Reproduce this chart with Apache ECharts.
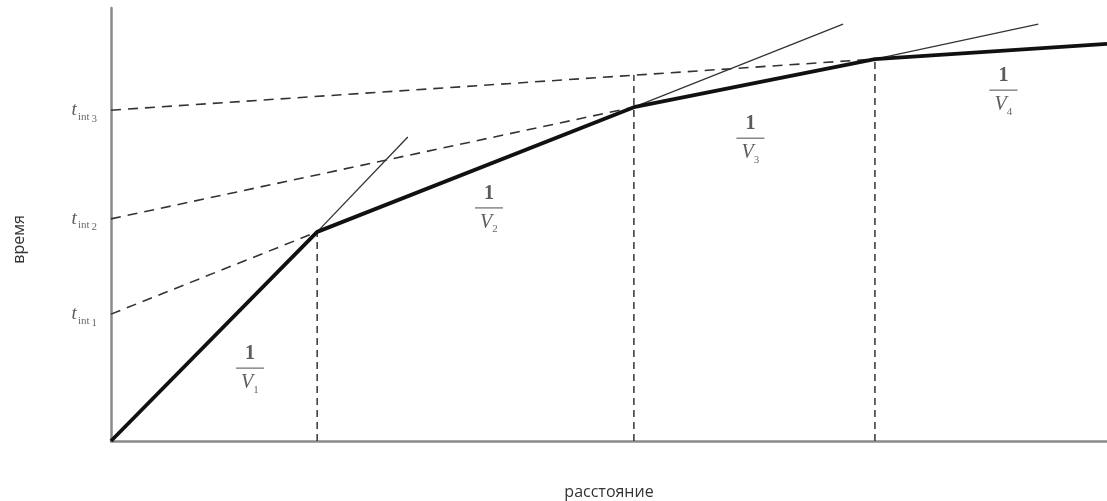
<!DOCTYPE html>
<html>
<head>
<meta charset="utf-8">
<script src="https://cdn.jsdelivr.net/npm/echarts@6/dist/echarts.min.js"></script>
<style>html,body{margin:0;padding:0;background:#fff;}#c{width:1107px;height:501px;}</style>
</head>
<body>
<div id="c"></div>
<script>
// Travel-time curve break points [distance, time]
var breakPoints = [[0, 0], [20.7, 48.3], [52.5, 77.1], [76.7, 88.2], [100, 91.7]];
// Intercept times t_int1..3 (on time axis)
var interceptTimes = [29.3, 51.3, 76.4];
// Ends of dashed back-extensions (start at distance 0, intercept time)
var dashedEnds = [[20.7, 48.3], [52.5, 77.1], [76.7, 88.2]];
// Thin forward extensions of segments: [start, end]
var thinExtensions = [
  [[20.7, 48.3], [29.8, 70.2]],
  [[52.5, 77.1], [73.5, 96.3]],
  [[76.7, 88.2], [93.1, 96.3]]
];
// Vertical dashed drops: [distance, top time]
var verticalDrops = [[20.7, 48.3], [52.5, 84.5], [76.7, 88.2]];
// Slope label indices and anchors
var slopeLabels = ['1', '2', '3', '4'];
var slopeAnchors = [[13.95, 16.6], [37.95, 53.6], [64.2, 69.7], [89.6, 80.8]];
var xTitle = 'расстояние';
var yTitle = 'время';

var serif = 'Liberation Serif';
var series = [];

series.push({
  type: 'line', data: breakPoints, symbol: 'none', silent: true,
  lineStyle: { color: '#111', width: 3.8 }, z: 5
});
thinExtensions.forEach(function (seg) {
  series.push({ type: 'line', data: seg, symbol: 'none', silent: true,
    lineStyle: { color: '#333', width: 1.3 }, z: 4 });
});
interceptTimes.forEach(function (t, i) {
  series.push({ type: 'line', data: [[0, t], dashedEnds[i]], symbol: 'none', silent: true,
    lineStyle: { color: '#333', width: 1.6, type: [10, 7] }, z: 3 });
});
verticalDrops.forEach(function (v) {
  series.push({ type: 'line', data: [[v[0], 0], v], symbol: 'none', silent: true,
    lineStyle: { color: '#333', width: 1.5, type: [7, 5] }, z: 3 });
});
// intercept labels
series.push({
  type: 'scatter', symbolSize: 0, silent: true, clip: false,
  data: interceptTimes.map(function (t, i) { return { value: [0, t], idx: i + 1 }; }),
  label: {
    show: true, position: 'left', distance: 14,
    formatter: function (p) { return '{t|t}{s|int}{n|' + p.data.idx + '}'; },
    rich: {
      t: { fontFamily: serif, fontStyle: 'italic', fontSize: 19, color: '#333' },
      s: { fontFamily: serif, fontSize: 11, color: '#444', padding: [13, 0, 0, 1] },
      n: { fontFamily: serif, fontSize: 11, color: '#444', padding: [17, 0, 0, 2] }
    }
  }
});
// slope labels 1/V
series.push({
  type: 'scatter', symbolSize: 0, silent: true, clip: false,
  data: slopeAnchors.map(function (a, i) { return { value: a, idx: slopeLabels[i] }; }),
  label: {
    show: true, position: 'inside',
    formatter: function (p) { return '{n|1}\n{bar|}\n{v|V}{s|' + p.data.idx + '}'; },
    rich: {
      n: { fontFamily: serif, fontSize: 20, fontWeight: 'bold', color: '#333', lineHeight: 22, align: 'center' },
      bar: { width: 28, height: 1.2, backgroundColor: '#444', lineHeight: 6, align: 'center' },
      v: { fontFamily: serif, fontStyle: 'italic', fontSize: 20, color: '#333', lineHeight: 24 },
      s: { fontFamily: serif, fontSize: 11, color: '#444', padding: [13, 0, 0, 0] }
    }
  }
});

var chart = echarts.init(document.getElementById('c'));
chart.setOption({
  animation: false,
  grid: { left: 111, right: 0, top: 8, bottom: 60, containLabel: false, outerBoundsMode: 'none' },
  xAxis: {
    type: 'value', min: 0, max: 100,
    name: xTitle, nameLocation: 'middle', nameGap: 43,
    nameTextStyle: { fontFamily: 'Open Sans', fontSize: 16, color: '#333' },
    axisLine: { lineStyle: { color: '#8a8a8a', width: 2.5 } },
    axisTick: { show: false }, axisLabel: { show: false }, splitLine: { show: false }
  },
  yAxis: {
    type: 'value', min: 0, max: 100,
    name: yTitle, nameLocation: 'middle', nameGap: 84, nameRotate: 90,
    nameTextStyle: { fontFamily: 'Open Sans', fontSize: 16, color: '#333', padding: [0, 0, 0, -30] },
    axisLine: { lineStyle: { color: '#8a8a8a', width: 2.5 } },
    axisTick: { show: false }, axisLabel: { show: false }, splitLine: { show: false }
  },
  series: series
});
</script>
</body>
</html>
